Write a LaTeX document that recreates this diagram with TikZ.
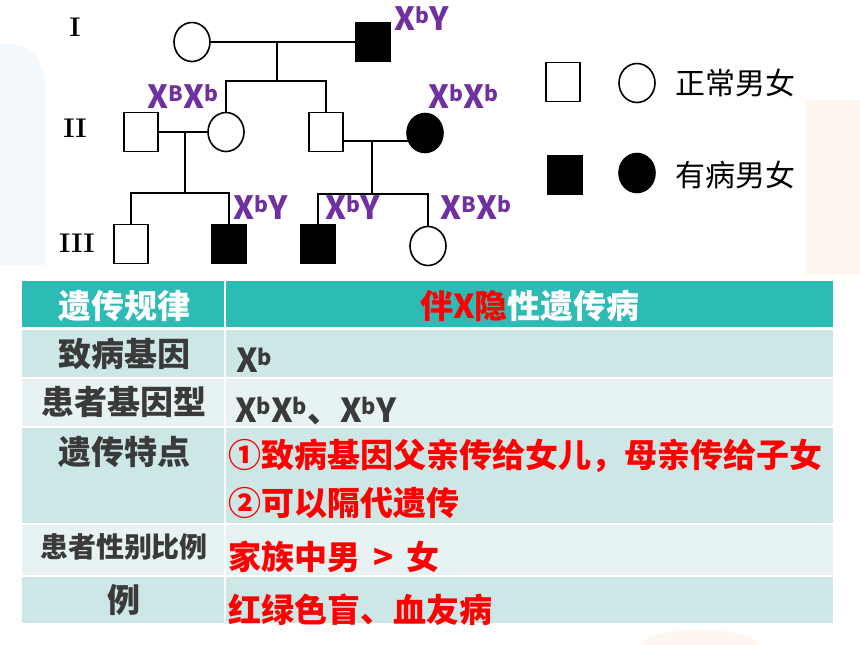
\documentclass[tikz,border=0pt]{standalone}
\usepackage{fontspec}
\newfontfamily\cjk{Noto Sans CJK SC}
\usetikzlibrary{shapes.geometric}

\definecolor{purp}{RGB}{112,48,160}
\definecolor{headteal}{RGB}{45,187,182}
\definecolor{rowdark}{RGB}{205,231,230}
\definecolor{rowlight}{RGB}{231,243,242}
\definecolor{txtgray}{RGB}{58,58,58}
\definecolor{paleblue}{RGB}{243,248,252}
\definecolor{paleorange}{RGB}{254,247,240}

\newcommand{\supb}[1]{\raisebox{.22em}{\scalebox{.66}{#1}}}

\begin{document}
\begin{tikzpicture}[x=1pt,y=-1pt,
    male/.style={draw,rectangle,minimum width=34,minimum height=39,inner sep=0,line width=1.6pt},
    female/.style={draw,ellipse,minimum width=36,minimum height=39,inner sep=0,line width=1.6pt},
    ill/.style={fill=black},
    line/.style={line width=1.6pt},
    gtype/.style={text=purp,font=\cjk\bfseries\fontsize{32}{32}\selectfont,inner sep=0},
    gen/.style={font=\bfseries\fontsize{27}{27}\selectfont,inner sep=0},
    key/.style={font=\cjk\fontsize{30}{30}\selectfont,inner sep=0},
    lab/.style={text=txtgray,font=\cjk\bfseries\fontsize{33}{33}\selectfont,inner sep=0},
    cell/.style={anchor=west,font=\cjk\bfseries\fontsize{33}{33}\selectfont,inner sep=0}]
        \useasboundingbox (0,0) rectangle (860,645);
        \fill[white] (0,0) rectangle (860,645);
        % faint backdrop
        \fill[paleblue] (0,45) .. controls (25,40) and (45,55) .. (45,90) -- (45,265) -- (0,265) -- cycle;
        \fill[paleorange] (806,100) rectangle (860,275);
        \fill[paleorange] (640,645) .. controls (650,625) and (750,625) .. (760,645) -- cycle;

        % generations
        \node[gen] (gI) at (75,27) {I};
        \node[gen] (gII) at (75,128) {II};
        \node[gen] (gIII) at (77,243) {III};

        % pedigree
        \node[female] (I1) at (192,42) {};
        \node[male,ill] (I2) at (373,42) {};
        \node[male] (II1) at (141,132) {};
        \node[female] (II2) at (226,132) {};
        \node[male] (II3) at (326,132) {};
        \node[female,ill] (II4) at (425,133) {};
        \node[male] (III1) at (131,244) {};
        \node[male,ill] (III2) at (229,244) {};
        \node[male,ill] (III3) at (318,244) {};
        \node[female] (III4) at (428,246) {};

        \coordinate (mI) at (277,42);
        \coordinate (sI) at (277,81);
        \coordinate (mII) at (185,132);
        \coordinate (sII) at (185,193);
        \coordinate (mIIb) at (372,141);
        \coordinate (sIIb) at (372,194);

        \draw[line] (I1) -- (I2);
        \draw[line] (mI) -- (sI);
        \draw[line] (II2.north) |- (sI) -| (II3.north);
        \draw[line] (II1) -- (II2);
        \draw[line] (mII) -- (sII);
        \draw[line] (III1.north) |- (sII) -| (III2.north);
        \draw[line] (II3.east |- mIIb) -- ([xshift=3pt]II4.west |- mIIb);
        \draw[line] (mIIb) -- (sIIb);
        \draw[line] (III3.north) |- (sIIb) -| (III4.north);

        % genotypes
        \node[gtype] (tI2) at (422,19) {X\supb{b}Y};
        \node[gtype] (tII2) at (183,97) {X\supb{B}X\supb{b}};
        \node[gtype] (tII4) at (463,97) {X\supb{b}X\supb{b}};
        \node[gtype] (tIII2) at (261,208) {X\supb{b}Y};
        \node[gtype] (tIII3) at (353,208) {X\supb{b}Y};
        \node[gtype] (tIII4) at (476,208) {X\supb{B}X\supb{b}};

        % key
        \node[male] (kM) at (563,82) {};
        \node[female] (kF) at (637,83) {};
        \node[key] (kNorm) at (735,83) {正常男女};
        \node[male,ill] (kMill) at (565,175) {};
        \node[female,ill] (kFill) at (637,173) {};
        \node[key] (kSick) at (735,175) {有病男女};

        % table
        \fill[headteal] (22,281) rectangle (833,327);
        \fill[rowdark] (22,330) rectangle (833,377);
        \fill[rowlight] (22,379) rectangle (833,426);
        \fill[rowdark] (22,428) rectangle (833,523);
        \fill[rowlight] (22,525) rectangle (833,575);
        \fill[rowdark] (22,577) rectangle (833,623);
        \draw[white,line width=2pt] (225,281) -- (225,623);

        \node[lab,text=white] (hLaw) at (124,306) {遗传规律};
        \node[lab,text=white] (hType) at (530,306) {{\color{red}伴X隐}性遗传病};
        \node[lab] (lGene) at (124,354) {致病基因};
        \node[lab] (lGeno) at (124,402) {患者基因型};
        \node[lab] (lFeat) at (124,452) {遗传特点};
        \node[lab,font=\cjk\bfseries\fontsize{28}{28}\selectfont] (lRatio) at (124,547) {患者性别比例};
        \node[lab] (lEx) at (124,600) {例};

        \node[cell,text=txtgray] (cGene) at (236,360) {X\supb{b}};
        \node[cell,text=txtgray] (cGeno) at (235,411) {X\supb{b}X\supb{b}、X\supb{b}Y};
        \node[cell,text=red] (cFeat1) at (228,456) {①致病基因父亲传给女儿，母亲传给子女};
        \node[cell,text=red] (cFeat2) at (228,503) {②可以隔代遗传};
        \node[cell,text=red] (cRatio) at (228,557) {家族中男\ \,>\ \,女};
        \node[cell,text=red] (cEx) at (228,610) {红绿色盲、血友病};
    \end{tikzpicture}
\end{document}
